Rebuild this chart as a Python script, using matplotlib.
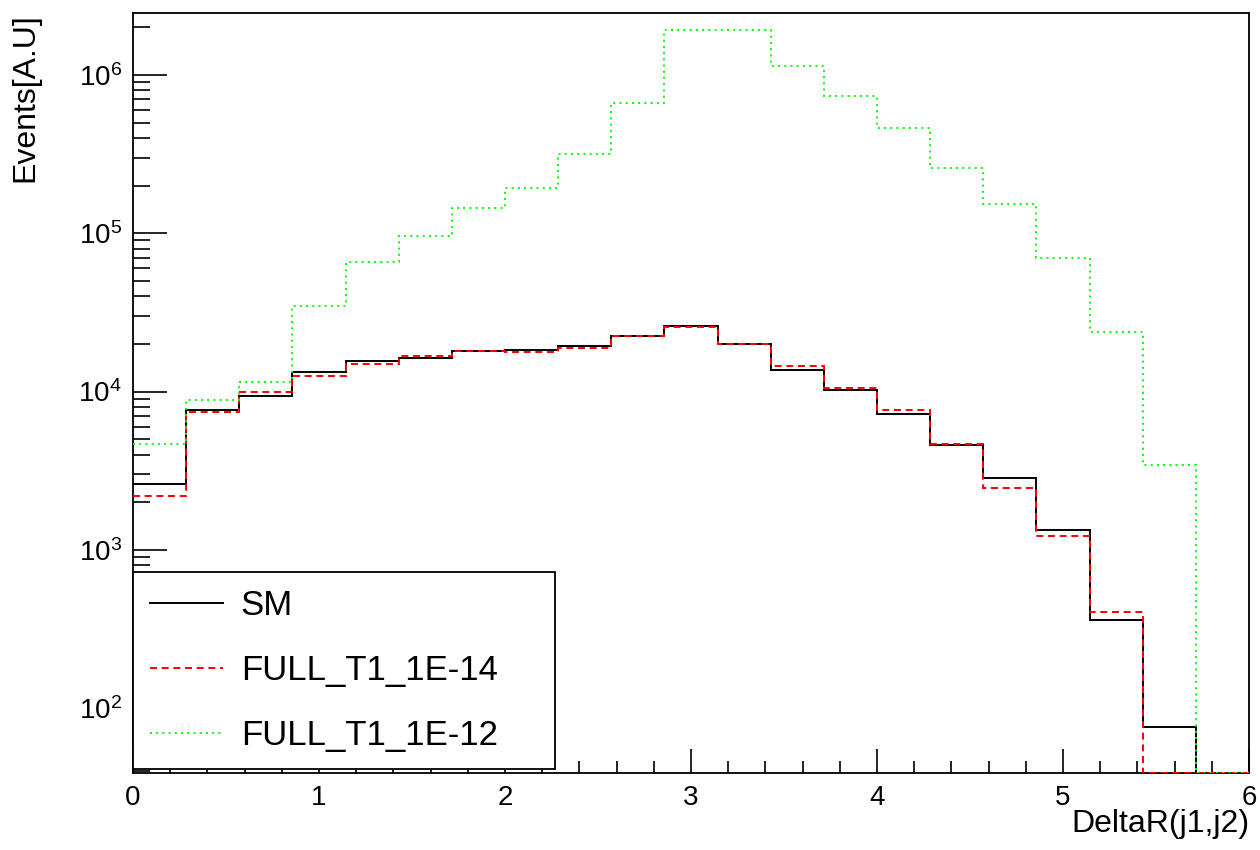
import numpy as np
import matplotlib
matplotlib.use("Agg")
import matplotlib.pyplot as plt
from matplotlib.ticker import LogLocator, LogFormatterSciNotation, NullFormatter, MultipleLocator
from matplotlib.lines import Line2D

plt.rcParams['font.family'] = ['Liberation Sans', 'DejaVu Sans']
plt.rcParams['mathtext.fontset'] = 'custom'
plt.rcParams['mathtext.rm'] = 'Liberation Sans'
plt.rcParams['mathtext.it'] = 'Liberation Sans:italic'
plt.rcParams['mathtext.default'] = 'regular'

# 21 bins of DeltaR(j1,j2) between 0 and 6
edges = np.linspace(0, 6, 22)

sm = [2620, 7660, 9400, 13300, 15500, 16300, 17950, 18400, 19420, 22450, 25960,
      20000, 13770, 10250, 7190, 4610, 2850, 1340, 363, 76, 0]
full_1e14 = [2200, 7450, 9960, 12560, 14960, 16700, 17950, 17900, 18870, 22400, 25450,
             20000, 14530, 10490, 7700, 4650, 2470, 1230, 405, 0, 0]
full_1e12 = [4680, 8870, 11500, 34700, 65800, 96000, 144000, 193000, 316000, 660000, 1.93e6,
             1.93e6, 1.14e6, 737000, 463000, 259000, 153500, 70000, 23900, 3430, 0]

labels = ['SM', 'FULL_T1_1E-14', 'FULL_T1_1E-12']
ymin, ymax = 39, 2.46e6

fig = plt.figure(figsize=(12.6, 8.5), dpi=100)
ax = fig.add_axes([0.1056, 0.0906, 0.8857, 0.8941])

lw = 1.4
styles = [dict(color='black', linestyle='-'),
          dict(color='#ff0000', linestyle=(0, (3.6, 2.4))),
          dict(color='#00ff00', linestyle=(0, (1.0, 2.2)))]

for vals, st in zip([sm, full_1e14, full_1e12], styles):
    v = np.clip(np.asarray(vals, dtype=float), ymin, None)
    ax.stairs(v, edges, baseline=None, linewidth=lw, zorder=3, **st)

ax.set_yscale('log')
ax.set_xlim(0, 6)
ax.set_ylim(ymin, ymax)

ax.yaxis.set_major_locator(LogLocator(base=10, numticks=20))
ax.yaxis.set_minor_locator(LogLocator(base=10, subs=np.arange(2, 10), numticks=20))
ax.yaxis.set_major_formatter(LogFormatterSciNotation())
ax.yaxis.set_minor_formatter(NullFormatter())
ax.xaxis.set_major_locator(MultipleLocator(1))
ax.xaxis.set_minor_locator(MultipleLocator(0.2))

ax.tick_params(axis='both', which='both', direction='in', top=False, right=False,
               width=1.2, labelsize=20)
ax.tick_params(axis='y', which='major', length=24.5, pad=8)
ax.tick_params(axis='y', which='minor', length=12.2)
ax.tick_params(axis='x', which='major', length=17, pad=9)
ax.tick_params(axis='x', which='minor', length=8.6)
for s in ax.spines.values():
    s.set_linewidth(1.3)

ax.set_xlabel('DeltaR(j1,j2)', fontsize=23, loc='right')
ax.xaxis.set_label_coords(1.0, -0.048)
ax.set_ylabel('Events[A.U]', fontsize=23, loc='top')
ax.yaxis.set_label_coords(-0.083, 1.0)

handles = [Line2D([], [], linewidth=lw, **st) for st in styles]
leg = ax.legend(handles, labels, loc='lower left', bbox_to_anchor=(0.0, 0.005, 0.378, 0.26),
                mode='expand', borderaxespad=0, fontsize=25, handlelength=2.1,
                handletextpad=0.5, labelspacing=0.92, borderpad=0.5,
                fancybox=False, framealpha=1, edgecolor='black')
leg.get_frame().set_linewidth(1.3)
leg.set_zorder(5)

fig.savefig('out.png', dpi=100)
